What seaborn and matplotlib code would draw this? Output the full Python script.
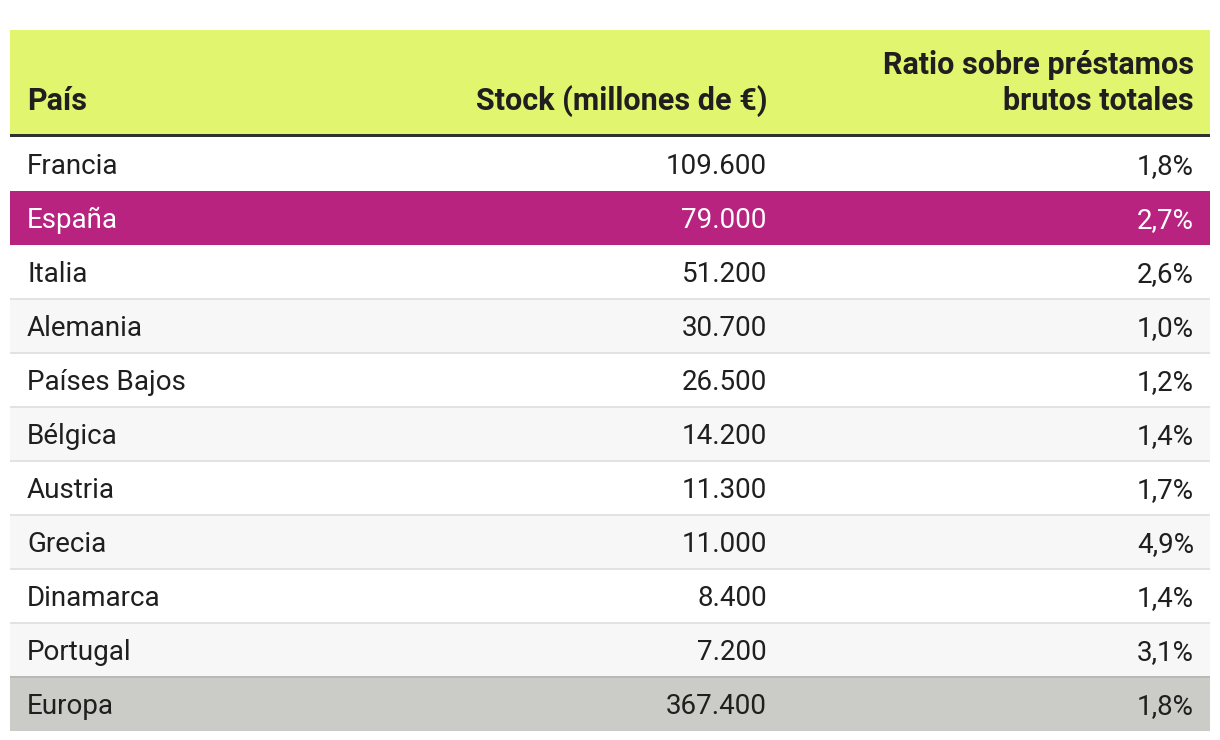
import matplotlib
matplotlib.use("Agg")
import matplotlib.pyplot as plt
from matplotlib.patches import Rectangle
import seaborn as sns

# ---- data ----
paises = ["Francia", "España", "Italia", "Alemania", "Países Bajos", "Bélgica",
          "Austria", "Grecia", "Dinamarca", "Portugal", "Europa"]
stock = ["109.600", "79.000", "51.200", "30.700", "26.500", "14.200",
         "11.300", "11.000", "8.400", "7.200", "367.400"]
ratio = ["1,8%", "2,7%", "2,6%", "1,0%", "1,2%", "1,4%",
         "1,7%", "4,9%", "1,4%", "3,1%", "1,8%"]
headers = ["País", "Stock (millones de €)", "Ratio sobre préstamos\nbrutos totales"]
highlight = "España"
total = "Europa"

sns.set_theme(style="white")
plt.rcParams["font.family"] = ["Roboto", "DejaVu Sans"]

W, H = 1220, 740
fig = plt.figure(figsize=(W / 100, H / 100), dpi=100)
ax = fig.add_axes([0, 0, 1, 1])
ax.set_xlim(0, W)
ax.set_ylim(H, 0)
ax.axis("off")

left, right = 10, 1210
head_top, head_bot = 30, 134
row_h = 54
body_top = 137

HEAD_C = "#e1f56e"
MAG = "#b8237f"
ALT = "#f7f7f7"
TOT = "#cbcbc7"
TXT = "#1f1f1f"
fs = 20
hfs = 22

# header
ax.add_patch(Rectangle((left, head_top), right - left, head_bot - head_top,
                       facecolor=HEAD_C, edgecolor="none"))
ax.add_patch(Rectangle((left, head_bot), right - left, 3.5,
                       facecolor="#303030", edgecolor="none"))
col_x = [27, 767, 1194]
col_ha = ["left", "right", "right"]
for h, x, ha in zip(headers, col_x, col_ha):
    lines = h.split("\n")
    n = len(lines)
    for k, ln in enumerate(lines):
        yc = 101 - (n - 1 - k) * 36
        ax.text(x, yc, ln, ha=ha, va="center", fontsize=hfs,
                fontweight="bold", color=TXT)

# rows
for i, (p, s, r) in enumerate(zip(paises, stock, ratio)):
    y0 = body_top + i * row_h
    if p == highlight:
        bg, fg = MAG, "white"
    elif p == total:
        bg, fg = TOT, TXT
    else:
        bg, fg = ("white" if i % 2 == 0 else ALT), TXT
    ax.add_patch(Rectangle((left, y0), right - left, row_h,
                           facecolor=bg, edgecolor="none"))
    if i > 0 and p != highlight and paises[i - 1] != highlight:
        lc = "#b8b8b4" if p == total else "#e2e2e2"
        ax.add_patch(Rectangle((left, y0 - 1), right - left, 2,
                               facecolor=lc, edgecolor="none"))
    yc = y0 + row_h / 2 + 2.5
    for val, x, ha in zip((p, s, r), col_x, col_ha):
        ax.text(x, yc, val, ha=ha, va="center", fontsize=fs, color=fg)

fig.savefig("out.png", dpi=100, facecolor="white")
